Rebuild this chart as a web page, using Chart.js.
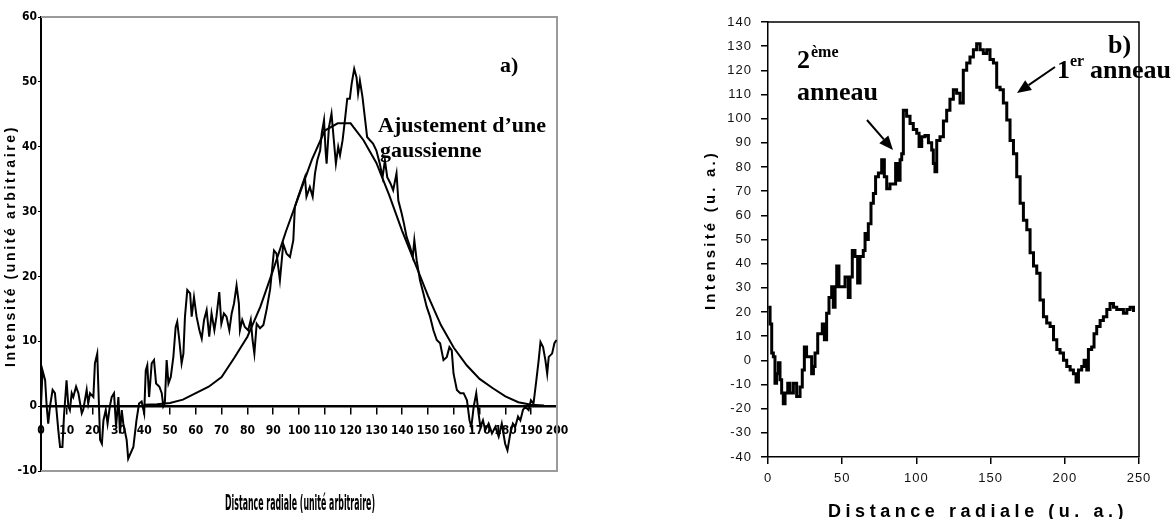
<!DOCTYPE html>
<html><head><meta charset="utf-8">
<script src="https://cdn.jsdelivr.net/npm/chart.js@4.4.1/dist/chart.umd.min.js"></script>
<style>
html,body{margin:0;padding:0;background:#fff;}
#wrap{position:relative;width:1172px;height:519px;overflow:hidden;}
#ca{position:absolute;left:0;top:0;width:580px;height:519px;}
#cb{position:absolute;left:580px;top:0;width:592px;height:519px;}
</style></head><body>
<div id="wrap"><canvas id="ca" width="580" height="519"></canvas><canvas id="cb" width="592" height="519"></canvas></div>
<script>
// a) profil mesuré + ajustement gaussien
const distA=[0,0.6,1.6,2.2,2.8,3.5,4.5,5.4,6.1,6.7,7.4,8.3,8.9,9.9,10.6,11.2,11.9,12.5,13.6,14.5,15.8,16.4,17.7,18.3,19,20.3,20.9,21.8,22.4,22.9,23.6,24.2,25.1,25.8,26.7,27.4,28.3,29.1,30,30.6,31.3,31.9,33.2,33.8,35.8,37,38,39,40,40.6,41.2,41.9,42.9,43.8,44.6,45.9,46.8,47.4,48,48.7,49.4,50.3,51.3,52.2,52.8,53.6,54.5,55.2,55.8,56.7,57.8,58.4,59.3,60.3,61.4,62.3,63.2,64.2,65.2,66.1,67.2,68,69.1,69.9,70.9,71.9,73,73.9,74.8,75.8,76.7,77.1,78,79,80.3,81.3,82,82.7,83.6,84.9,86.2,87.5,88.8,90.3,91.3,92.6,93.9,95.2,96.5,97.8,98.4,99.7,101,102.3,102.9,104.2,105.3,106.2,107.1,108.2,108.8,109.7,110.3,110.7,111.6,112.6,113.5,114.3,115.2,115.9,116.9,117.8,118.7,119.7,120.4,121.4,122.3,122.9,123.6,124.6,125.5,126.4,127.5,128.7,130,131.3,132.4,133.3,134.2,135.5,136.5,137.8,138.5,139.8,140.7,141.7,143,144.1,144.7,145.6,146.9,148.2,149.5,150.8,152.1,153.4,154.7,156,157.3,158.3,159.2,159.9,161.2,162.5,163.8,165.1,166.1,166.8,167.7,168.7,169.6,170.3,171.3,172.2,173.5,174.8,176.1,177.4,178.6,179.9,180.8,181.9,182.9,183.8,184.9,185.8,186.8,187.7,189,189.9,190.9,192,192.9,193.6,194.6,195.5,196.2,196.8,198.1,199,199.8];
const intA=[0,5.5,4,0,-2.7,0,2.5,2,-1,-3.7,-6.3,-6.3,-1.6,4,0,-0.6,2,1.4,3,2,-1.1,-0.5,2.5,0.4,2,1.4,6.6,8.1,0.9,-5.2,-5.8,-2.2,-0.6,-2.7,0,1.4,2,-3.2,1.4,-4.2,-0.6,-2.7,-5.2,-8.1,-6.3,-2.2,0.4,0.7,-1.1,5.5,6.3,1.4,6.6,7.1,3.5,3,2,0,0.5,7.1,3.5,4.5,7.6,12.2,13,10.2,6.6,8.1,13.8,17.9,17.4,13.8,16.8,13.8,11.7,10.4,13.3,14.8,10.7,14.3,11.7,13.8,17.6,12.7,14.3,13.8,11.7,14.3,15.8,18.6,15.8,11.7,13.3,12.2,11.7,13.3,10.2,8.1,12.7,12,12.5,15,18,24,23.5,19.4,25,23.5,23,25.6,30.7,32.3,33.8,35.3,32.3,33.8,32.3,35.9,37.9,39.4,42,44.1,39.4,37.4,43,45.1,41,37.4,40,38.7,41,44.1,47.4,47.4,49.7,52,50.7,48.2,50.2,47.7,44.6,41.5,41,40.5,39.4,37.4,35.3,37.9,35.3,34.3,33.3,35.9,31.7,29.7,28.1,26.1,24.6,23,25.6,22.5,19.4,17.4,15.3,13.8,11.7,10.2,9.7,7.1,7.6,9.1,8.6,5,2.5,2,2,0.9,-2.2,-3.2,-0.1,2,-1.1,-3.2,-2.2,-3.7,-2.7,-4.2,-3.2,-4.7,-2.7,-5.8,-6.8,-4.2,-2.7,-3.2,-1.6,-2.2,-0.6,-0.1,-0.6,0.9,0.4,4,7.1,9.9,9.1,7.1,5,7.6,8.1,9.7,10.2];
const distFit=[40,45,50,55,60,65,70,75,80,85,90,95,100,105,110,115,120,125,130,135,140,145,150,155,160,165,170,175,180,185,190,195];
const intFit=[0.2,0.3,0.5,1,2,3,4.5,7.5,10.7,15.3,21,27,32.5,38,42.5,43.6,43.6,41,37.5,32.5,27,22,17,12.5,9,6.3,4.2,2.8,1.5,0.6,0.2,0.1];

// b) profil radial
const distB=[0.2,1.4,2.5,3.6,4.7,5.8,7,8.1,9.2,10.3,11.5,13.3,14.8,17.1,19.3,21.6,23.1,24.5,26,27.6,29.4,30.6,31.7,33.5,35,36.6,38,39.5,41.1,42.9,44,45.2,46.3,47.8,49.6,51.9,54.1,55.3,56.8,58.6,60.4,62,64.2,65.4,66.5,67.6,69.4,71,72.5,74.4,76.6,78.4,80,82.2,84.5,86,87.4,89,90.1,91.2,93.4,95.7,97.9,100.2,101.8,103.6,105.8,108.1,110.3,111.4,112.5,113.7,115.9,118.2,120.4,122.6,124.9,127.1,129.4,131.6,133.9,136.1,138.4,140.6,142.9,145.1,147.4,149.6,151.9,154.1,156.4,158.6,160.9,163.1,165.4,167.6,169.9,172.1,174.4,176.6,178.9,181.1,183.3,185.6,187.8,190.1,192.4,194.6,196.8,199.1,201.3,203.6,205.8,207.6,209.2,211.4,213,214.8,215.9,218.1,219.7,221.5,223.8,226,228.3,230.5,232.8,235,237.3,239.5,241.8,244,246.3];
const intB=[22,15,3,1.5,-9.5,-5.5,-1,-8,-13.5,-18,-13.5,-9.5,-13.5,-9.5,-15,-11,-4,5.5,1.5,1.5,-5.5,-2.5,3,11,11,15,8.5,19.5,26,30.5,22,30.5,39,30.5,30.5,34.5,26,34.5,45.5,43,32,43,45.5,52.5,50,56.5,65,69,76,77.5,83,76,71,73,73,81.5,74.5,83,85.5,103.5,101,98,95.5,94,88.5,92.5,93,90,87,81.5,78,91,92.5,99,103.5,108,112,110.5,106.5,120,123,125.5,128.5,131,128.5,127,128.5,124.5,123,113,112,106.5,99.5,91,85.5,76,65,58,54,44.5,39,36,25,18,15.5,14,8.5,4.5,3,0,-2.5,-4,-5.5,-9,-4,-2.5,0,-4,4.5,5.5,11,14,16.5,18,21,23.5,22,21,21,19.5,21,22,20];

const narrow="'Liberation Sans Narrow','DejaVu Sans Condensed',Arial,sans-serif";
const arial="'Liberation Sans',Arial,sans-serif";
const serif="'Liberation Serif','Times New Roman',serif";

function pts(xs,ys){return xs.map((x,i)=>({x:x,y:ys[i]}));}

// texte espacé pour tenir sur une longueur donnée
function spaced(ctx,txt,x,y,len,font,align){
  ctx.font=font;ctx.letterSpacing='0px';
  const w=ctx.measureText(txt).width;
  const sp=Math.max(0,(len-w)/txt.length);
  ctx.letterSpacing=sp+'px';
  ctx.textAlign=align||'left';
  ctx.fillText(txt,x,y);
  ctx.letterSpacing='0px';
}
function arrow(ctx,x1,y1,x2,y2){
  const a=Math.atan2(y2-y1,x2-x1),L=14,W=6;
  const bx=x2-L*Math.cos(a),by=y2-L*Math.sin(a);
  ctx.beginPath();ctx.moveTo(x1,y1);ctx.lineTo(bx,by);ctx.lineWidth=2;ctx.strokeStyle='#000';ctx.stroke();
  ctx.beginPath();ctx.moveTo(x2,y2);
  ctx.lineTo(bx+W*Math.sin(a),by-W*Math.cos(a));
  ctx.lineTo(bx-W*Math.sin(a),by+W*Math.cos(a));
  ctx.closePath();ctx.fillStyle='#000';ctx.fill();
}

const decoA={id:'decoA',
  beforeDatasetsDraw(c){
    const {left,right,top,bottom}=c.chartArea,x=c.ctx;
    x.save();x.strokeStyle='#9a9a9a';x.lineWidth=2;
    x.beginPath();x.moveTo(left,top);x.lineTo(right,top);x.lineTo(right,bottom);x.lineTo(left,bottom);x.stroke();
    x.restore();
  },
  afterDraw(c){
    const x=c.ctx;x.save();x.fillStyle='#000';x.textBaseline='alphabetic';
    x.save();x.translate(15,246);x.rotate(-Math.PI/2);
    spaced(x,'Intensité (unité arbitraire)',0,0,242,'bold 14px '+arial,'center');x.restore();
    x.font='bold 21px '+narrow;x.textAlign='center';
    x.fillText('Distance radiale (unité arbitraire)',300,510,150);
    x.font='bold 22px '+serif;x.textAlign='left';
    x.fillText('a)',500,72);
    x.fillText('Ajustement d’une',378,132);
    x.fillText('gaussienne',380,157);
    x.restore();
  }
};

new Chart(document.getElementById('ca'),{
  type:'line',
  data:{datasets:[
    {label:'mesure',data:pts(distA,intA),borderColor:'#000',borderWidth:2,pointRadius:0,tension:0,fill:false},
    {label:'gaussienne',data:pts(distFit,intFit),borderColor:'#000',borderWidth:2,pointRadius:0,tension:0,fill:false}
  ]},
  options:{
    responsive:false,animation:false,
    layout:{padding:{left:0,top:17,right:23,bottom:48}},
    plugins:{legend:{display:false},tooltip:{enabled:false}},
    scales:{
      x:{type:'linear',position:{y:0},min:0,max:200,
        afterFit:s=>{s.height=0;},
        ticks:{stepSize:10,color:'#000',padding:11,maxRotation:0,autoSkip:false,font:{family:narrow,size:12,weight:'bold'}},
        grid:{drawOnChartArea:false,drawTicks:true,tickLength:7,color:'#000',lineWidth:1.5},
        border:{color:'#000',width:2.5}},
      y:{min:-10,max:60,
        afterFit:s=>{s.width=41;},
        ticks:{stepSize:10,color:'#000',padding:1,font:{family:narrow,size:12,weight:'bold'}},
        grid:{drawOnChartArea:false,drawTicks:true,tickLength:3,color:'#000'},
        border:{color:'#000',width:2}}
    }
  },
  plugins:[decoA]
});

const decoB={id:'decoB',
  beforeDraw(c){c.ctx.letterSpacing='1px';},
  afterDraw(c){
    const {left,right,top,bottom}=c.chartArea,x=c.ctx;
    x.save();x.strokeStyle='#000';x.lineWidth=1.5;
    x.beginPath();x.moveTo(left,top);x.lineTo(right,top);x.lineTo(right,bottom);x.stroke();
    x.fillStyle='#000';x.textBaseline='alphabetic';
    x.save();x.translate(135,230);x.rotate(-Math.PI/2);
    spaced(x,'Intensité (u. a.)',0,0,160,'bold 15px '+arial,'center');x.restore();
    spaced(x,'Distance radiale (u. a.)',248,517,300,'bold 18px '+arial,'left');
    x.letterSpacing='0px';x.textAlign='left';
    x.font='bold 26px '+serif;
    x.fillText('b)',528,53);
    x.fillText('1',477,78);
    x.fillText('anneau',510,78);
    x.fillText('2',217,68);
    x.fillText('anneau',217,100);
    x.font='bold 16px '+serif;
    x.fillText('er',490,66);
    x.fillText('ème',231,57);
    arrow(x,475,67,437,93);
    arrow(x,287,120,313,150);
    x.restore();
  }
};

new Chart(document.getElementById('cb'),{
  type:'line',
  data:{datasets:[
    {label:'profil',data:pts(distB,intB),borderColor:'#000',borderWidth:3,pointRadius:0,stepped:true,fill:false}
  ]},
  options:{
    responsive:false,animation:false,
    layout:{padding:{left:0,top:22,right:33,bottom:32}},
    plugins:{legend:{display:false},tooltip:{enabled:false}},
    scales:{
      x:{type:'linear',position:'bottom',min:0,max:250,
        afterFit:s=>{s.height=30;},
        ticks:{stepSize:50,color:'#111',padding:7,maxRotation:0,font:{family:arial,size:13}},
        grid:{drawOnChartArea:false,drawTicks:true,tickLength:7,color:'#000',lineWidth:1.5},
        border:{color:'#000',width:1.5}},
      y:{min:-40,max:140,
        afterFit:s=>{s.width=188;},
        ticks:{stepSize:10,color:'#111',padding:9,font:{family:arial,size:13}},
        grid:{drawOnChartArea:false,drawTicks:true,tickLength:7,color:'#000',lineWidth:1.5},
        border:{color:'#000',width:1.5}}
    }
  },
  plugins:[decoB]
});
</script>
</body></html>
